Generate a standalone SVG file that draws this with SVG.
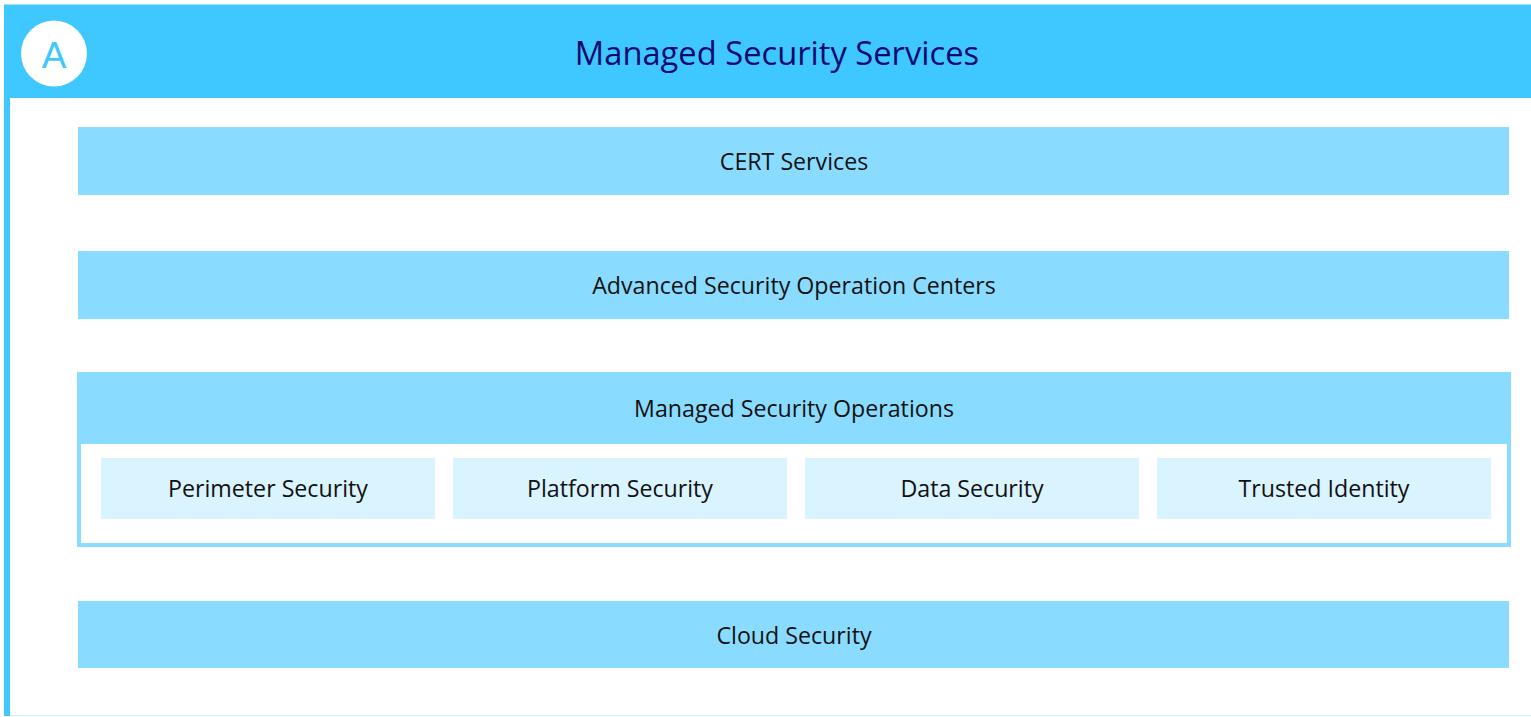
<svg xmlns="http://www.w3.org/2000/svg" width="1531" height="717" viewBox="0 0 1531 717">
<style>
.band{fill:#89DCFF}
.sub{fill:#D9F3FF}
.lbl{font-family:"Open Sans","Liberation Sans",sans-serif;font-size:23.2px;fill:#111;text-anchor:middle}
</style>
<rect x="0" y="0" width="1531" height="717" fill="#fff"/>
<g id="frame">
<rect x="4" y="4" width="1527" height="1" fill="#A8E4FF"/>
<rect x="4" y="5" width="1527" height="93" fill="#3FC8FF"/>
<rect x="4" y="98" width="6" height="618" fill="#3FC8FF"/>
<rect x="10" y="715" width="1521" height="1.5" fill="#D6F2FF"/>
<circle cx="54" cy="53.5" r="33" fill="#fff"/>
<text x="54" y="68" font-family="Liberation Sans,Arial,sans-serif" font-size="37" fill="#3FC8FF" text-anchor="middle">A</text>
<text x="777" y="65" font-family="Open Sans,Liberation Sans,sans-serif" font-size="32.7" fill="#0A0A70" text-anchor="middle">Managed Security Services</text>
</g>
<g id="cert">
<rect class="band" x="78" y="127" width="1431" height="68"/>
<text class="lbl" x="794" y="170">CERT Services</text>
</g>
<g id="asoc">
<rect class="band" x="78" y="251" width="1431" height="68"/>
<text class="lbl" x="794" y="294">Advanced Security Operation Centers</text>
</g>
<g id="mso">
<rect x="79" y="374" width="1430" height="171" fill="#fff" stroke="#89DCFF" stroke-width="4"/>
<rect class="band" x="77" y="372" width="1434" height="72"/>
<text class="lbl" x="794" y="417">Managed Security Operations</text>
</g>
<g id="perimeter">
<rect class="sub" x="101" y="458" width="334" height="61"/>
<text class="lbl" x="268" y="497">Perimeter Security</text>
</g>
<g id="platform">
<rect class="sub" x="453" y="458" width="334" height="61"/>
<text class="lbl" x="620" y="497">Platform Security</text>
</g>
<g id="data">
<rect class="sub" x="805" y="458" width="334" height="61"/>
<text class="lbl" x="972" y="497">Data Security</text>
</g>
<g id="trusted">
<rect class="sub" x="1157" y="458" width="334" height="61"/>
<text class="lbl" x="1324" y="497">Trusted Identity</text>
</g>
<g id="cloud">
<rect class="band" x="78" y="601" width="1431" height="67"/>
<text class="lbl" x="794" y="644">Cloud Security</text>
</g>
<g id="connectors"></g>
</svg>
